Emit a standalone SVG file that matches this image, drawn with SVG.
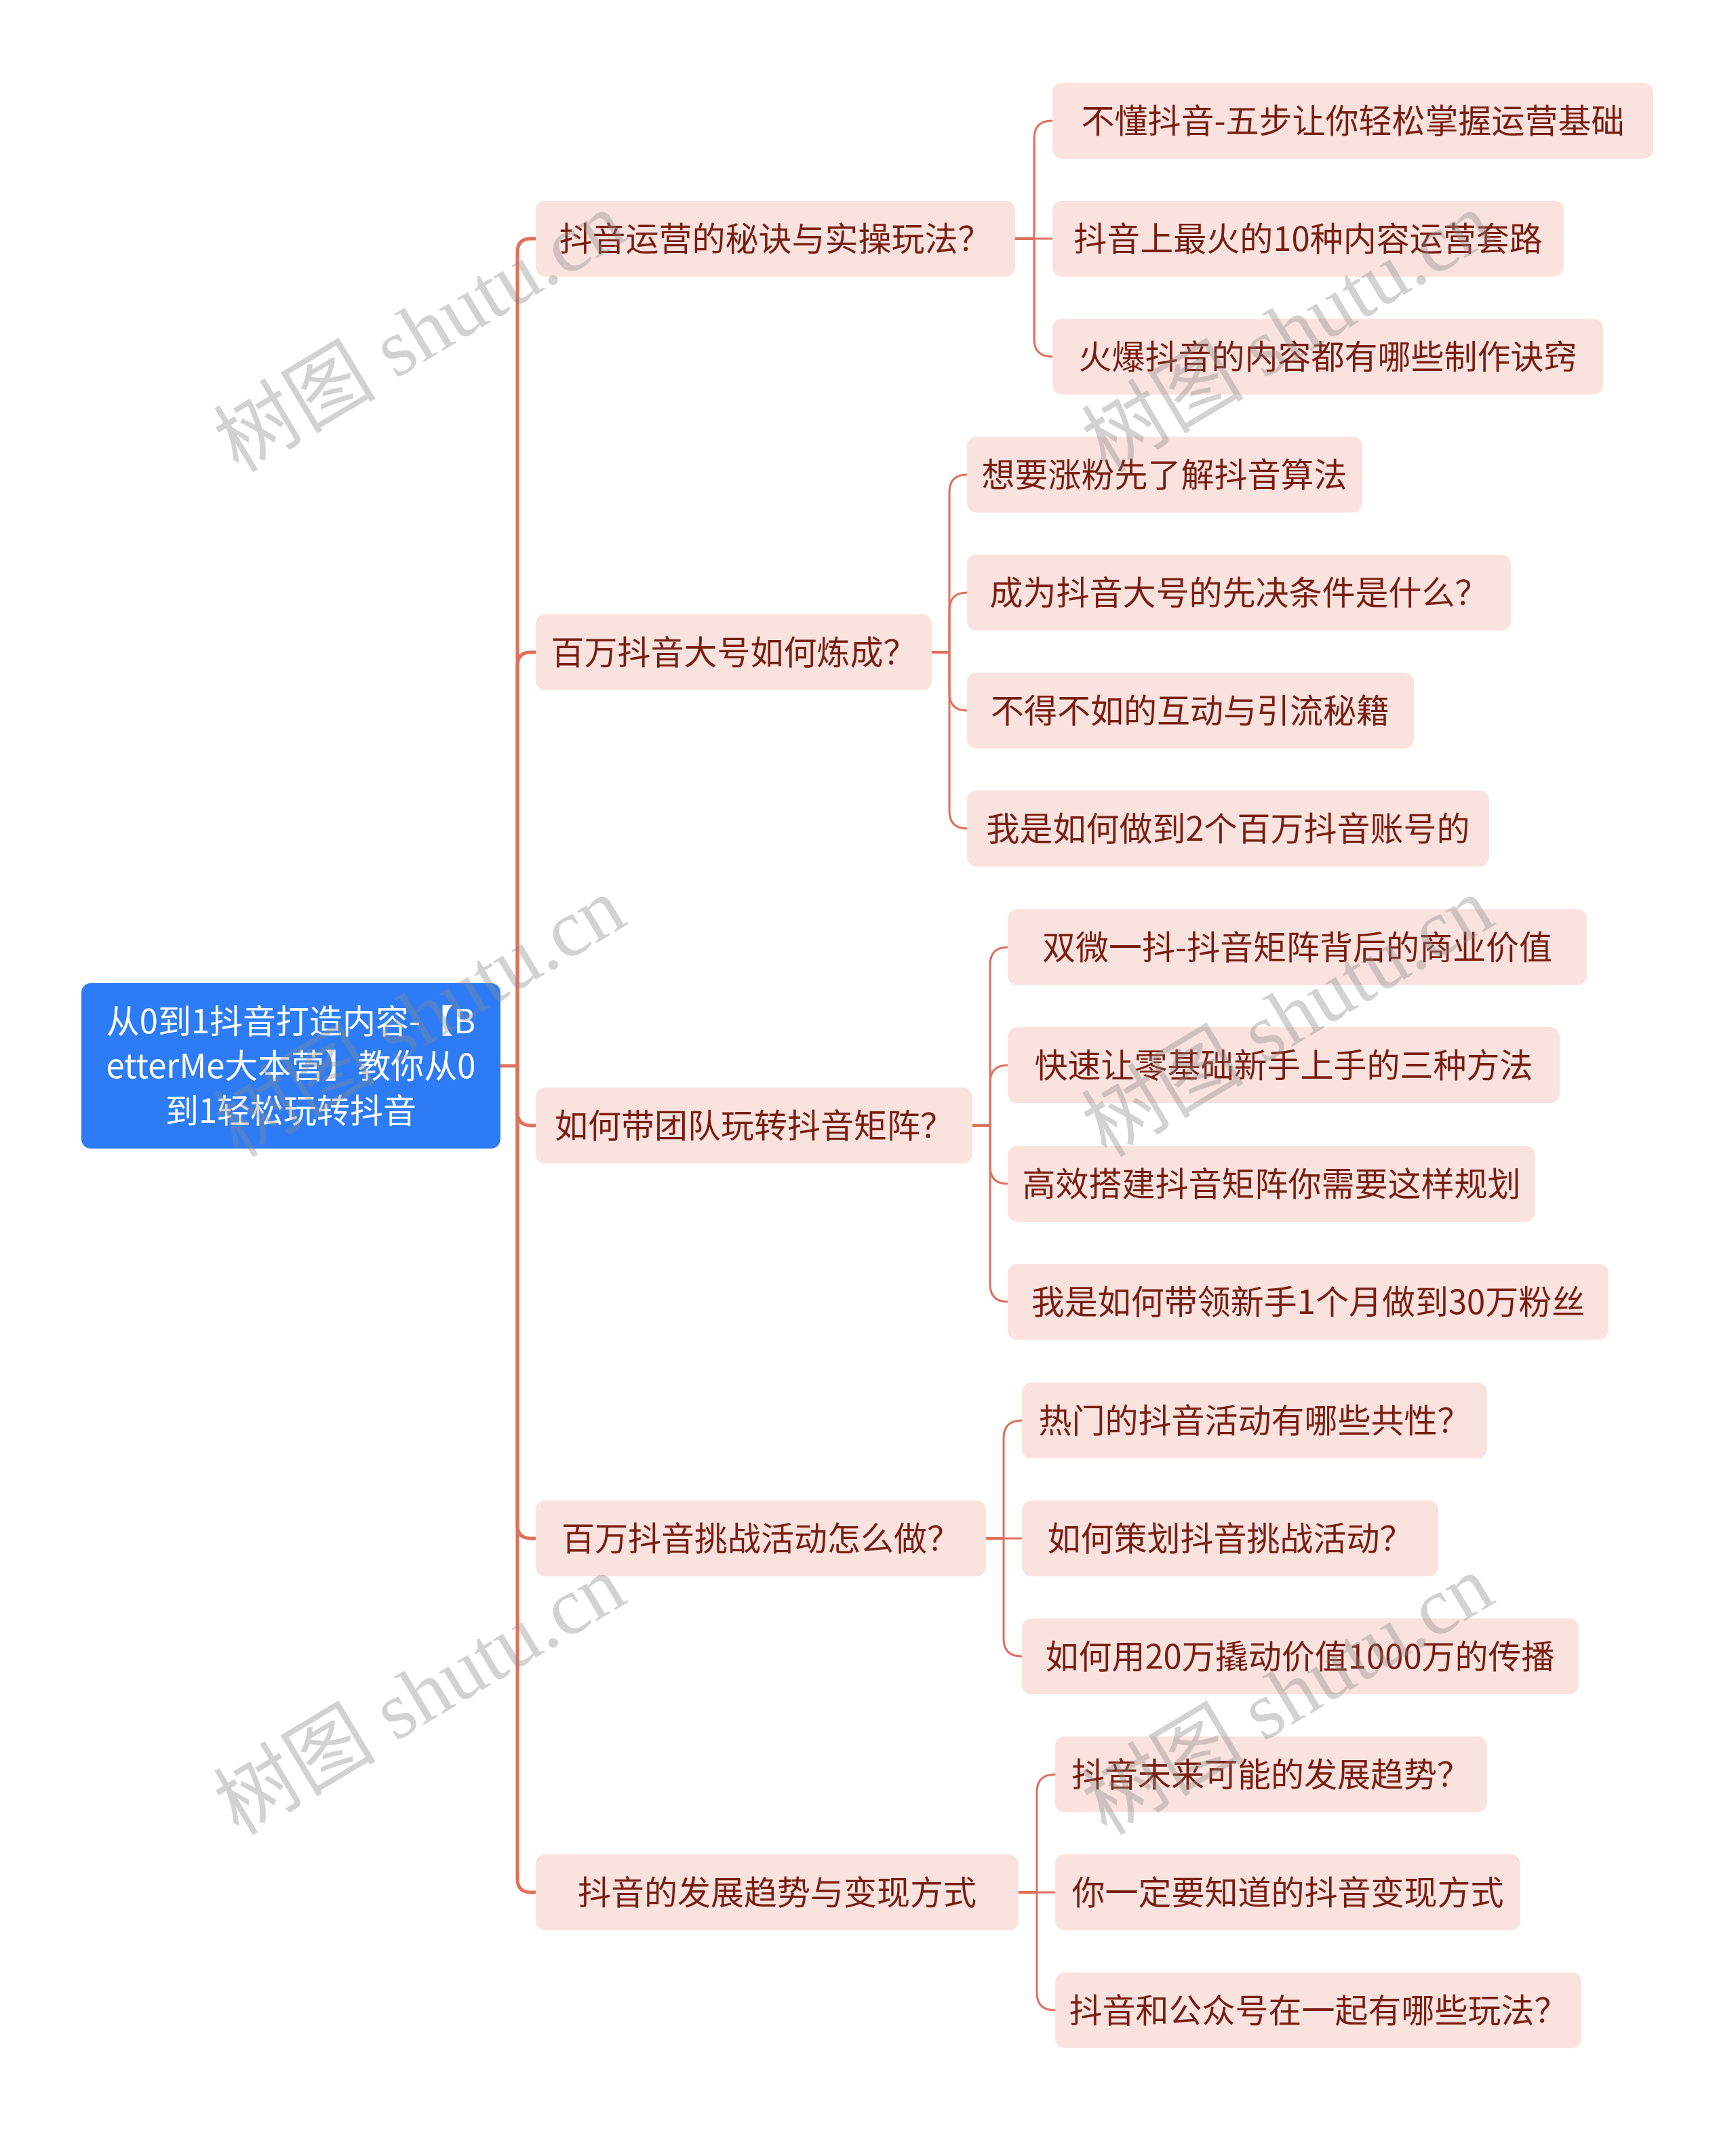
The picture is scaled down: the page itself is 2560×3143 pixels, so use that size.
<svg xmlns="http://www.w3.org/2000/svg" width="2560" height="3143" viewBox="0 0 2560 3143">
<style>
.bx{fill:#FAE3DE;}
.t{font-family:"Noto Sans CJK SC","Noto Sans",sans-serif;font-size:49px;fill:#7A1D12;text-anchor:middle;}
.rt{font-family:"Noto Sans CJK SC","Noto Sans",sans-serif;font-size:49px;fill:#FFFFFF;text-anchor:middle;}
.trunk{fill:none;stroke:#E0705C;stroke-width:5;stroke-linecap:round;}
.stub{fill:none;stroke:#E0705C;stroke-width:4;}
.br{fill:none;stroke:#E0705C;stroke-width:3;}
.wm{font-family:"Liberation Serif","Noto Sans CJK SC",serif;font-size:120px;fill:#888888;fill-opacity:0.38;text-anchor:middle;}
</style>
<rect width="2560" height="3143" fill="#FFFFFF"/>
<g id="connectors">
<path class="trunk" d="M738,1572 H763"/>
<path class="trunk" d="M763,1572 V372 Q763,352 783,352 H790"/>
<path class="trunk" d="M763,1572 V982 Q763,962 783,962 H790"/>
<path class="trunk" d="M763,1572 V1640 Q763,1660 783,1660 H790"/>
<path class="trunk" d="M763,1572 V2249 Q763,2269 783,2269 H790"/>
<path class="trunk" d="M763,1572 V2771 Q763,2791 783,2791 H790"/>
<path class="stub" d="M1497,352 H1525"/>
<path class="br" d="M1525,352 V204 Q1525,178 1552,178"/>
<path class="br" d="M1525,352 H1552"/>
<path class="br" d="M1525,352 V500 Q1525,526 1552,526"/>
<path class="stub" d="M1374,962 H1400"/>
<path class="br" d="M1400,962 V726 Q1400,700 1426,700"/>
<path class="br" d="M1400,962 V900 Q1400,874 1426,874"/>
<path class="br" d="M1400,962 V1022 Q1400,1048 1426,1048"/>
<path class="br" d="M1400,962 V1196 Q1400,1222 1426,1222"/>
<path class="stub" d="M1434,1660 H1460"/>
<path class="br" d="M1460,1660 V1423 Q1460,1397 1486,1397"/>
<path class="br" d="M1460,1660 V1597 Q1460,1571 1486,1571"/>
<path class="br" d="M1460,1660 V1720 Q1460,1746 1486,1746"/>
<path class="br" d="M1460,1660 V1894 Q1460,1920 1486,1920"/>
<path class="stub" d="M1454,2269 H1480"/>
<path class="br" d="M1480,2269 V2121 Q1480,2095 1507,2095"/>
<path class="br" d="M1480,2269 H1507"/>
<path class="br" d="M1480,2269 V2417 Q1480,2443 1507,2443"/>
<path class="stub" d="M1502,2791 H1529"/>
<path class="br" d="M1529,2791 V2643 Q1529,2617 1556,2617"/>
<path class="br" d="M1529,2791 H1556"/>
<path class="br" d="M1529,2791 V2939 Q1529,2965 1556,2965"/>
</g>
<g id="root">
<rect x="120" y="1450" width="618" height="244" rx="14" fill="#2D7CF6"/>
<text class="rt" x="429" y="1524">从0到1抖音打造内容-【B</text>
<text class="rt" x="429" y="1590">etterMe大本营】教你从0</text>
<text class="rt" x="429" y="1656">到1轻松玩转抖音</text>
</g>
<g id="n1">
<rect class="bx" x="790" y="296" width="707" height="112" rx="14"/>
<text class="t" x="1143" y="370">抖音运营的秘诀与实操玩法？</text>
</g>
<g id="n1a">
<rect class="bx" x="1552" y="122" width="886" height="112" rx="14"/>
<text class="t" x="1995" y="196">不懂抖音-五步让你轻松掌握运营基础</text>
</g>
<g id="n1b">
<rect class="bx" x="1552" y="296" width="754" height="112" rx="14"/>
<text class="t" x="1929" y="370">抖音上最火的10种内容运营套路</text>
</g>
<g id="n1c">
<rect class="bx" x="1552" y="470" width="812" height="112" rx="14"/>
<text class="t" x="1958" y="544">火爆抖音的内容都有哪些制作诀窍</text>
</g>
<g id="n2">
<rect class="bx" x="790" y="906" width="584" height="112" rx="14"/>
<text class="t" x="1082" y="980">百万抖音大号如何炼成？</text>
</g>
<g id="n2a">
<rect class="bx" x="1426" y="644" width="583" height="112" rx="14"/>
<text class="t" x="1717" y="718">想要涨粉先了解抖音算法</text>
</g>
<g id="n2b">
<rect class="bx" x="1426" y="818" width="802" height="112" rx="14"/>
<text class="t" x="1827" y="892">成为抖音大号的先决条件是什么？</text>
</g>
<g id="n2c">
<rect class="bx" x="1426" y="992" width="659" height="112" rx="14"/>
<text class="t" x="1755" y="1066">不得不如的互动与引流秘籍</text>
</g>
<g id="n2d">
<rect class="bx" x="1426" y="1166" width="770" height="112" rx="14"/>
<text class="t" x="1811" y="1240">我是如何做到2个百万抖音账号的</text>
</g>
<g id="n3">
<rect class="bx" x="790" y="1604" width="644" height="112" rx="14"/>
<text class="t" x="1112" y="1678">如何带团队玩转抖音矩阵？</text>
</g>
<g id="n3a">
<rect class="bx" x="1486" y="1341" width="854" height="112" rx="14"/>
<text class="t" x="1913" y="1415">双微一抖-抖音矩阵背后的商业价值</text>
</g>
<g id="n3b">
<rect class="bx" x="1486" y="1515" width="814" height="112" rx="14"/>
<text class="t" x="1893" y="1589">快速让零基础新手上手的三种方法</text>
</g>
<g id="n3c">
<rect class="bx" x="1486" y="1690" width="778" height="112" rx="14"/>
<text class="t" x="1875" y="1764">高效搭建抖音矩阵你需要这样规划</text>
</g>
<g id="n3d">
<rect class="bx" x="1486" y="1864" width="886" height="112" rx="14"/>
<text class="t" x="1929" y="1938">我是如何带领新手1个月做到30万粉丝</text>
</g>
<g id="n4">
<rect class="bx" x="790" y="2213" width="664" height="112" rx="14"/>
<text class="t" x="1122" y="2287">百万抖音挑战活动怎么做？</text>
</g>
<g id="n4a">
<rect class="bx" x="1507" y="2039" width="686" height="112" rx="14"/>
<text class="t" x="1850" y="2113">热门的抖音活动有哪些共性？</text>
</g>
<g id="n4b">
<rect class="bx" x="1507" y="2213" width="614" height="112" rx="14"/>
<text class="t" x="1814" y="2287">如何策划抖音挑战活动？</text>
</g>
<g id="n4c">
<rect class="bx" x="1507" y="2387" width="821" height="112" rx="14"/>
<text class="t" x="1917" y="2461">如何用20万撬动价值1000万的传播</text>
</g>
<g id="n5">
<rect class="bx" x="790" y="2735" width="712" height="112" rx="14"/>
<text class="t" x="1146" y="2809">抖音的发展趋势与变现方式</text>
</g>
<g id="n5a">
<rect class="bx" x="1556" y="2561" width="637" height="112" rx="14"/>
<text class="t" x="1874" y="2635">抖音未来可能的发展趋势？</text>
</g>
<g id="n5b">
<rect class="bx" x="1556" y="2735" width="686" height="112" rx="14"/>
<text class="t" x="1899" y="2809">你一定要知道的抖音变现方式</text>
</g>
<g id="n5c">
<rect class="bx" x="1556" y="2909" width="776" height="112" rx="14"/>
<text class="t" x="1944" y="2983">抖音和公众号在一起有哪些玩法？</text>
</g>
<g id="watermarks">
<text class="wm" transform="translate(640,525) rotate(-31)">树图 shutu.cn</text>
<text class="wm" transform="translate(1920,525) rotate(-31)">树图 shutu.cn</text>
<text class="wm" transform="translate(640,1535) rotate(-31)">树图 shutu.cn</text>
<text class="wm" transform="translate(1920,1535) rotate(-31)">树图 shutu.cn</text>
<text class="wm" transform="translate(640,2535) rotate(-31)">树图 shutu.cn</text>
<text class="wm" transform="translate(1920,2535) rotate(-31)">树图 shutu.cn</text>
</g>
</svg>
